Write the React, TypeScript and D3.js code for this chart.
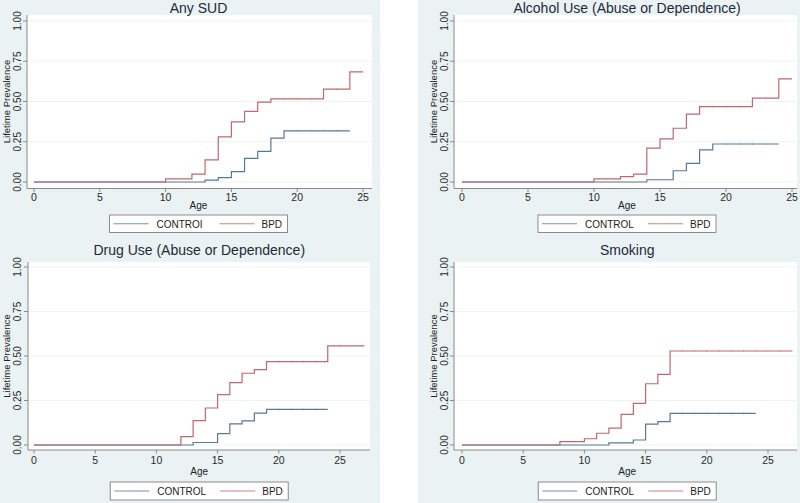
import React from "react";
import * as d3 from "d3";

// ---------- Data ----------
const titles = ["Any SUD", "Alcohol Use (Abuse or Dependence)", "Drug Use (Abuse or Dependence)", "Smoking"];
const controlLabels = ["CONTROI", "CONTROL", "CONTROL", "CONTROL"];
const bpdLabel = "BPD";
const yTicks = [0, 0.25, 0.5, 0.75, 1];
const xTicks = [0, 5, 10, 15, 20, 25];
const xMax = [25, 25, 27, 27];

// Any SUD
const sudControlAges = [0, 13, 14, 15, 16, 17, 18, 19, 24];
const sudControlVals = [0, 0.012, 0.027, 0.064, 0.147, 0.19, 0.272, 0.318, 0.318];
const sudBpdAges = [0, 10, 12, 13, 14, 15, 16, 17, 18, 22, 24, 25];
const sudBpdVals = [0, 0.019, 0.049, 0.137, 0.28, 0.373, 0.439, 0.496, 0.516, 0.577, 0.684, 0.684];
const sudControlCensor = [20, 21, 22, 23];
const sudBpdCensor = [19, 20, 21, 23];

// Alcohol
const alcControlAges = [0, 14, 16, 17, 18, 19, 24];
const alcControlVals = [0, 0.014, 0.07, 0.116, 0.199, 0.236, 0.236];
const alcBpdAges = [0, 10, 12, 13, 14, 15, 16, 17, 18, 22, 24, 25];
const alcBpdVals = [0, 0.019, 0.033, 0.049, 0.21, 0.268, 0.334, 0.422, 0.468, 0.521, 0.64, 0.64];
const alcControlCensor = [20, 21, 22, 23];
const alcBpdCensor = [19, 20, 21, 23];

// Drug
const drugControlAges = [0, 13, 15, 16, 17, 18, 19, 24];
const drugControlVals = [0, 0.014, 0.064, 0.119, 0.136, 0.179, 0.2, 0.2];
const drugBpdAges = [0, 12, 13, 14, 15, 16, 17, 18, 19, 24, 27];
const drugBpdVals = [0, 0.047, 0.137, 0.208, 0.283, 0.35, 0.403, 0.424, 0.468, 0.557, 0.557];
const drugControlCensor = [20, 21, 22, 23];
const drugBpdCensor = [20, 21, 22, 23, 25];

// Smoking
const smkControlAges = [0, 12, 14, 15, 16, 17, 24];
const smkControlVals = [0, 0.012, 0.028, 0.117, 0.131, 0.178, 0.178];
const smkBpdAges = [0, 8, 10, 11, 12, 13, 14, 15, 16, 17, 27];
const smkBpdVals = [0, 0.019, 0.035, 0.066, 0.095, 0.172, 0.234, 0.344, 0.397, 0.528, 0.528];
const smkControlCensor = [18, 19, 20, 21, 22, 23];
const smkBpdCensor = [18, 19, 20, 21, 22, 23, 24, 25, 26];

const controlAges = [sudControlAges, alcControlAges, drugControlAges, smkControlAges];
const controlVals = [sudControlVals, alcControlVals, drugControlVals, smkControlVals];
const bpdAges = [sudBpdAges, alcBpdAges, drugBpdAges, smkBpdAges];
const bpdVals = [sudBpdVals, alcBpdVals, drugBpdVals, smkBpdVals];
const controlCensor = [sudControlCensor, alcControlCensor, drugControlCensor, smkControlCensor];
const bpdCensor = [sudBpdCensor, alcBpdCensor, drugBpdCensor, smkBpdCensor];

// ---------- Layout ----------
const W = 800;
const H = 503;
const BG = "#eaf2f3";
const GRID = "#edf3f4";
const BLUE = "#57799d";
const RED = "#c2676c";
const AXIS = "#8a8a8a";
const FONT = "'Liberation Sans', Arial, Helvetica, sans-serif";

type Geo = {
  x0: number; x25: number; y0: number; y1: number;
  plotL: number; plotR: number; plotT: number; axisY: number;
  titleY: number; tickLabelY: number; ageY: number;
  yLabX: number; yTitleX: number; legT: number; legB: number; legTextY: number;
};

const geos: Geo[] = [
  { x0: 34, x25: 363, y0: 182, y1: 21, plotL: 27, plotR: 372, plotT: 15, axisY: 188.5, titleY: 12.5, tickLabelY: 200.5, ageY: 209, yLabX: 20.5, yTitleX: 9.5, legT: 215, legB: 232.5, legTextY: 227.5 },
  { x0: 462, x25: 792, y0: 182, y1: 21, plotL: 454, plotR: 797, plotT: 15, axisY: 188.5, titleY: 12.5, tickLabelY: 200.5, ageY: 209, yLabX: 447.5, yTitleX: 436.5, legT: 215, legB: 232.5, legTextY: 227.5 },
  { x0: 34, x25: 340, y0: 445, y1: 267, plotL: 28, plotR: 370, plotT: 262, axisY: 450, titleY: 255, tickLabelY: 464, ageY: 475, yLabX: 20.5, yTitleX: 9.5, legT: 482, legB: 500, legTextY: 495 },
  { x0: 462, x25: 768, y0: 445, y1: 267, plotL: 454, plotR: 797, plotT: 262, axisY: 450, titleY: 255, tickLabelY: 464, ageY: 475, yLabX: 447.5, yTitleX: 436.5, legT: 482, legB: 500, legTextY: 495 },
];

function Panel({ i }: { i: number }) {
  const g = geos[i];
  const x = d3.scaleLinear().domain([0, 25]).range([g.x0, g.x25]);
  const y = d3.scaleLinear().domain([0, 1]).range([g.y0, g.y1]);
  const line = d3
    .line<[number, number]>()
    .x((d) => x(d[0]))
    .y((d) => y(d[1]))
    .curve(d3.curveStepAfter);

  const cPts: [number, number][] = controlAges[i].map((a, k) => [a, controlVals[i][k]]);
  const bPts: [number, number][] = bpdAges[i].map((a, k) => [a, bpdVals[i][k]]);

  const valueAt = (ages: number[], vals: number[], a: number) => {
    let v = 0;
    ages.forEach((t, k) => {
      if (t <= a) v = vals[k];
    });
    return v;
  };

  const xCenter = (x(0) + x(xMax[i])) / 2;
  const yMid = (y(0) + y(1)) / 2;

  return (
    <g>
      {/* plot region */}
      <rect x={g.plotL} y={g.plotT} width={g.plotR - g.plotL} height={g.axisY - g.plotT} fill="#ffffff" />
      {yTicks.map((t) => (
        <line key={"g" + t} x1={g.plotL} x2={g.plotR} y1={y(t)} y2={y(t)} stroke={GRID} strokeWidth={1} />
      ))}
      {/* title */}
      <text x={xCenter} y={g.titleY} textAnchor="middle" fontSize={14} fill="#1e2a3a" fontFamily={FONT}>
        {titles[i]}
      </text>
      {/* y axis */}
      <line x1={g.plotL} x2={g.plotL} y1={g.plotT} y2={g.axisY} stroke={AXIS} strokeWidth={1} />
      {yTicks.map((t) => (
        <g key={"y" + t}>
          <line x1={g.plotL - 4} x2={g.plotL} y1={y(t)} y2={y(t)} stroke={AXIS} strokeWidth={1} />
          <text
            transform={`translate(${g.yLabX},${y(t)}) rotate(-90)`}
            textAnchor="middle"
            fontSize={10}
            fill="#2a2a2a"
            fontFamily={FONT}
          >
            {d3.format(".2f")(t)}
          </text>
        </g>
      ))}
      <text
        transform={`translate(${g.yTitleX},${yMid}) rotate(-90)`}
        textAnchor="middle"
        fontSize={9.5}
        fill="#222"
        fontFamily={FONT}
      >
        Lifetime Prevalence
      </text>
      {/* x axis */}
      <line x1={g.plotL} x2={g.plotR} y1={g.axisY} y2={g.axisY} stroke={AXIS} strokeWidth={1} />
      {xTicks.map((t) => (
        <g key={"x" + t}>
          <line x1={x(t)} x2={x(t)} y1={g.axisY} y2={g.axisY + 3.5} stroke={AXIS} strokeWidth={1} />
          <text x={x(t)} y={g.tickLabelY} textAnchor="middle" fontSize={10.5} fill="#2a2a2a" fontFamily={FONT}>
            {t}
          </text>
        </g>
      ))}
      <text x={xCenter} y={g.ageY} textAnchor="middle" fontSize={10} fill="#222" fontFamily={FONT}>
        Age
      </text>
      {/* curves */}
      <path d={line(cPts) || ""} fill="none" stroke={BLUE} strokeWidth={1.2} />
      {controlCensor[i].map((a) => (
        <line key={"cc" + a} x1={x(a)} x2={x(a)} y1={y(valueAt(controlAges[i], controlVals[i], a)) - 1.2} y2={y(valueAt(controlAges[i], controlVals[i], a)) + 1.2} stroke={BLUE} strokeWidth={0.7} opacity={0.45} />
      ))}
      <path d={line(bPts) || ""} fill="none" stroke={RED} strokeWidth={1.2} />
      {bpdCensor[i].map((a) => (
        <line key={"bc" + a} x1={x(a)} x2={x(a)} y1={y(valueAt(bpdAges[i], bpdVals[i], a)) - 1.2} y2={y(valueAt(bpdAges[i], bpdVals[i], a)) + 1.2} stroke={RED} strokeWidth={0.7} opacity={0.45} />
      ))}
      {/* legend */}
      <rect x={xCenter - 89} y={g.legT} width={178} height={g.legB - g.legT} fill="#ffffff" stroke="#8c8c8c" strokeWidth={1} />
      <line x1={xCenter - 85} x2={xCenter - 50} y1={(g.legT + g.legB) / 2} y2={(g.legT + g.legB) / 2} stroke={BLUE} strokeWidth={1.1} opacity={0.8} />
      <text x={xCenter - 42} y={g.legTextY} fontSize={10} fill="#222" fontFamily={FONT}>
        {controlLabels[i]}
      </text>
      <line x1={xCenter + 21} x2={xCenter + 56} y1={(g.legT + g.legB) / 2} y2={(g.legT + g.legB) / 2} stroke={RED} strokeWidth={1.1} opacity={0.8} />
      <text x={xCenter + 63} y={g.legTextY} fontSize={10} fill="#222" fontFamily={FONT}>
        {bpdLabel}
      </text>
    </g>
  );
}

export default function App() {
  return (
    <svg
      width={W}
      height={H}
      viewBox={`0 0 ${W} ${H}`}
      style={{ position: "fixed", left: 0, top: 0, display: "block", background: "#ffffff" }}
    >
      <rect x={0} y={0} width={380} height={H} fill={BG} />
      <rect x={418} y={0} width={W - 418} height={H} fill={BG} />
      {[0, 1, 2, 3].map((i) => (
        <Panel key={i} i={i} />
      ))}
    </svg>
  );
}
